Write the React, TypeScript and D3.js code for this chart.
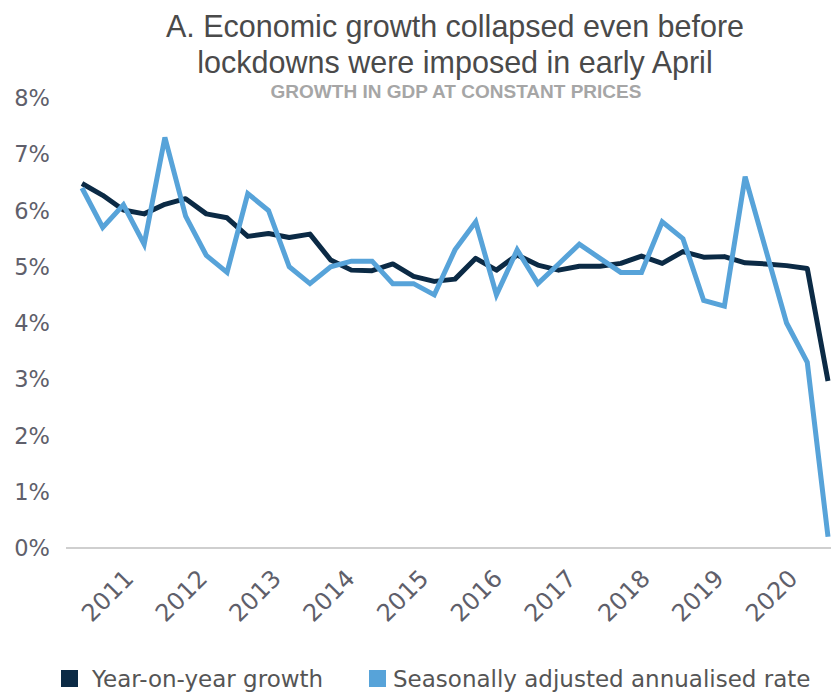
import React from "react";
import * as d3 from "d3";

const quarters = [
  "2011Q1","2011Q2","2011Q3","2011Q4",
  "2012Q1","2012Q2","2012Q3","2012Q4",
  "2013Q1","2013Q2","2013Q3","2013Q4",
  "2014Q1","2014Q2","2014Q3","2014Q4",
  "2015Q1","2015Q2","2015Q3","2015Q4",
  "2016Q1","2016Q2","2016Q3","2016Q4",
  "2017Q1","2017Q2","2017Q3","2017Q4",
  "2018Q1","2018Q2","2018Q3","2018Q4",
  "2019Q1","2019Q2","2019Q3","2019Q4",
  "2020Q1",
];

const yoyGrowth = [
  6.48, 6.27, 6.01, 5.94, 6.11, 6.21, 5.94, 5.87,
  5.54, 5.59, 5.52, 5.58, 5.12, 4.94, 4.93, 5.05,
  4.83, 4.74, 4.78, 5.15, 4.94, 5.21, 5.03, 4.94,
  5.01, 5.01, 5.06, 5.19, 5.06, 5.27, 5.17, 5.18,
  5.07, 5.05, 5.02, 4.97, 2.97,
];

const saarGrowth = [
  6.4, 5.7, 6.1, 5.4, 7.3, 5.9, 5.2, 4.9,
  6.3, 6.0, 5.0, 4.7, 5.0, 5.1, 5.1, 4.7,
  4.7, 4.5, 5.3, 5.8, 4.5, 5.3, 4.7, 5.05,
  5.4, 5.15, 4.9, 4.9, 5.8, 5.5, 4.4, 4.3,
  6.6, 5.3, 4.0, 3.3, 0.2,
];

const yearLabels = ["2011","2012","2013","2014","2015","2016","2017","2018","2019","2020"];
const yTicks = [0, 1, 2, 3, 4, 5, 6, 7, 8];

const titleLines = [
  "A. Economic growth collapsed even before",
  "lockdowns were imposed in early April",
];
const subtitle = "GROWTH IN GDP AT CONSTANT PRICES";
const seriesNames = ["Year-on-year growth", "Seasonally adjusted annualised rate"];

const W = 831;
const H = 696;
const DARK = "#0b2a45";
const BLUE = "#57a3d9";
const AXIS_TEXT = "#5f5f6b";
const TEXT_FONT = "'DejaVu Sans', sans-serif";

export default function App() {
  const x = d3.scalePoint<string>().domain(quarters).range([82, 828]);
  const y = d3.scaleLinear().domain([0, 8]).range([548, 98]);
  const yearX = d3.scalePoint<string>().domain(yearLabels).range([135, 799]);

  const line = d3
    .line<number>()
    .x((_, i) => x(quarters[i]) as number)
    .y((d) => y(d));

  return (
    <svg width={W} height={H} style={{ position: "absolute", left: 0, top: 0, background: "#fff" }}>
      <rect x={0} y={0} width={W} height={H} fill="#fff" />
      {titleLines.map((t, i) => (
        <text
          key={t}
          x={455}
          y={37 + i * 36}
          textAnchor="middle"
          fontFamily="'Liberation Sans', Arial, sans-serif"
          fontSize={30.5}
          fill="#4a4a4a"
        >
          {t}
        </text>
      ))}
      <text
        x={456}
        y={98}
        textAnchor="middle"
        fontFamily="'Liberation Sans', Arial, sans-serif"
        fontWeight="bold"
        fontSize={19}
        fill="#a6a6a6"
      >
        {subtitle}
      </text>

      {yTicks.map((t) => (
        <text
          key={t}
          x={50}
          y={y(t)}
          dy="0.36em"
          textAnchor="end"
          fontFamily={TEXT_FONT}
          fontSize={22.5}
          fill={AXIS_TEXT}
        >
          {t}%
        </text>
      ))}

      <line x1={66} x2={W} y1={y(0)} y2={y(0)} stroke="#cfcfcf" strokeWidth={2} />

      {yearLabels.map((yr) => (
        <text
          key={yr}
          transform={`translate(${yearX(yr)},580) rotate(-45)`}
          textAnchor="end"
          fontFamily={TEXT_FONT}
          fontSize={24}
          fill={AXIS_TEXT}
        >
          {yr}
        </text>
      ))}

      <path d={line(yoyGrowth) || ""} fill="none" stroke={DARK} strokeWidth={5} strokeLinejoin="round" />
      <path d={line(saarGrowth) || ""} fill="none" stroke={BLUE} strokeWidth={5} strokeLinejoin="miter" />

      <rect x={61} y={670} width={17} height={17} fill={DARK} />
      <text x={92} y={687} fontFamily={TEXT_FONT} fontSize={23} fill="#555">
        {seriesNames[0]}
      </text>
      <rect x={369} y={670} width={17} height={17} fill={BLUE} />
      <text x={393} y={687} fontFamily={TEXT_FONT} fontSize={23} fill="#555">
        {seriesNames[1]}
      </text>
    </svg>
  );
}
